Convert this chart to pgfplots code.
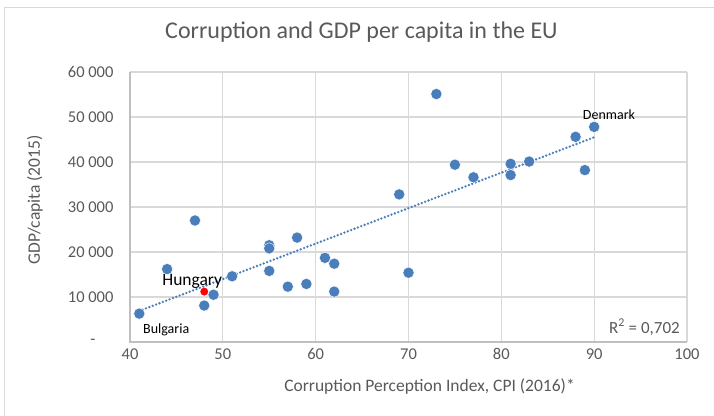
\documentclass[border=0pt]{standalone}
\usepackage{pgfplots}
\pgfplotsset{compat=1.18}
\usepackage{fontspec}
\setmainfont{Carlito}
\definecolor{dotblue}{HTML}{4A7EBB}
\definecolor{txtgray}{HTML}{595959}
\definecolor{gridgray}{HTML}{D9D9D9}
\definecolor{axgray}{HTML}{BFBFBF}
\begin{document}
\begin{tikzpicture}[x=1pt,y=1pt]
\path[use as bounding box] (-130,-73) rectangle (584,342);
\draw[gridgray,line width=1pt] (-125,-80) -- (-125,334) -- (600,334);
\begin{axis}[
  at={(0,0)}, anchor=south west,
  scale only axis, width=557pt, height=270pt,
  xmin=40, xmax=100, ymin=0, ymax=60000,
  scaled y ticks=false,
  xtick={40,50,...,100},
  xticklabels={40,50,60,70,80,90,100},
  ytick={0,10000,...,60000},
  yticklabels={{-\rule{18pt}{0pt}},10 000,20 000,30 000,40 000,50 000,60 000},
  /pgf/number format/assume math mode=true,
  tick label style={font=\fontsize{16.5}{18}\selectfont, text=txtgray},
  xticklabel style={yshift=-3pt},
  yticklabel style={xshift=-13pt},
  major tick length=0pt,
  grid=major,
  major grid style={gridgray, line width=1.2pt},
  axis line style={draw=none},
  axis x line*=bottom, axis y line*=left,
  xlabel={Corruption Perception Index, CPI (2016)*},
  ylabel={GDP/capita (2015)},
  label style={font=\fontsize{17.5}{20}\selectfont, text=txtgray},
  xlabel style={at={(axis description cs:0.5377,-0.163)}, anchor=center},
  ylabel style={at={(axis description cs:-0.1706,0.526)}, anchor=center},
  title={Corruption and GDP per capita in the EU},
  title style={font=\fontsize{24}{28}\selectfont, text=txtgray, at={(axis description cs:0.4156,1.126)}, anchor=center},
  clip=false,
]
\draw[axgray,line width=1.2pt] (axis cs:40,60000) -- (axis cs:40,0) -- (axis cs:100,0);
\addplot[dotblue, line width=2.6pt, line cap=round, dash pattern=on 0pt off 3.6pt] coordinates {(41,6900) (90,45500)};
\addplot[only marks, mark=*, mark size=5.6pt, mark options={fill=dotblue, draw=white, line width=0.4pt}] coordinates {
(41,6300) (44,16200) (47,27000) (48,8100) (49,10500) (51,14600)
(55,21500) (55,20800) (55,15800) (57,12300) (58,23200) (59,12900)
(61,18700) (62,17400) (62,11200) (69,32800) (70,15400) (73,55100)
(75,39400) (77,36600) (81,39600) (81,37100) (83,40100) (88,45600)
(89,38200) (90,47800)
};
\addplot[only marks, mark=*, mark size=3.7pt, mark options={fill=red, draw=red}] coordinates {(48,11200)};
\node[font=\fontsize{14}{16}\selectfont, text=black] at (axis cs:91.6,50600) {Denmark};
\node[font=\fontsize{14}{16}\selectfont, text=black] at (axis cs:43.9,2700) {Bulgaria};
\node[font=\fontsize{17.5}{20}\selectfont, text=black] at (axis cs:46.7,13500) {Hungary};
\node[font=\fontsize{17}{19}\selectfont, text=txtgray, anchor=south east] at (axis cs:99.6,700) {R\textsuperscript{2} = 0,702};
\end{axis}
\end{tikzpicture}
\end{document}
